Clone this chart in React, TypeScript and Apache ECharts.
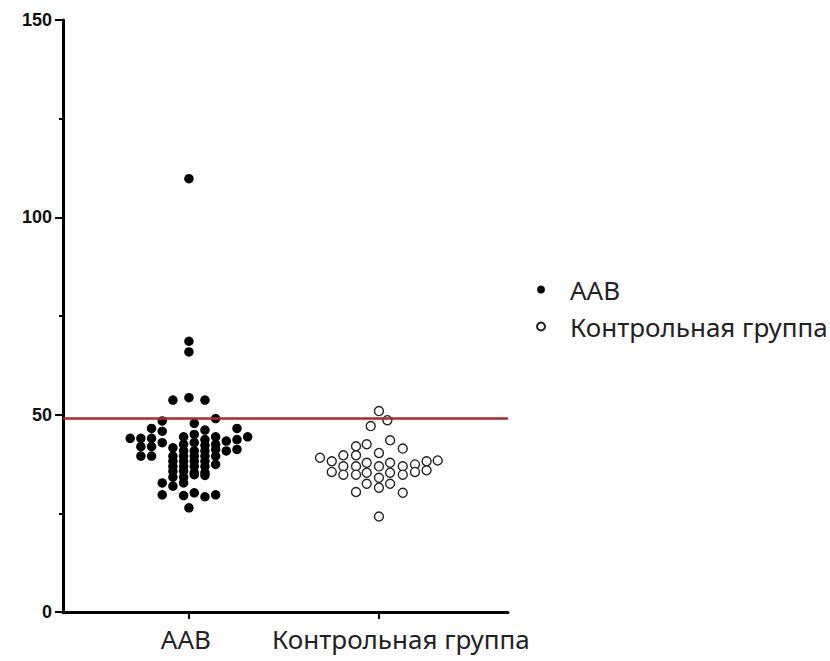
import React, { useEffect, useRef } from "react";
import * as echarts from "echarts";

const categories = ["AAB", "Контрольная группа"];
const categoryCenters = [28.3, 71.0];
const thresholdValue = 49;
const yTicks = [0, 50, 100, 150];

// AAB group: values and beeswarm horizontal offsets (x-axis units from group centre)
const aabValues = [
  53.7, 54.3, 53.7,
  48.4, 47.8, 49.0,
  46.5, 46.5,
  45.8, 46.1,
  44.0, 44.0, 44.0, 44.4, 45.0, 43.7, 44.4, 43.7, 44.4,
  42.9, 42.5, 42.9, 42.2, 42.5, 43.3,
  41.9, 41.9, 41.6,
  40.8, 40.8, 40.8, 41.2, 40.8, 41.2,
  39.5, 39.5, 39.5, 39.5, 39.5, 39.5, 39.5,
  38.2, 38.2, 38.2, 38.2,
  36.9, 36.9, 36.9, 36.9, 37.4,
  35.7, 35.7, 35.3, 35.3,
  34.2, 34.2, 34.8, 34.6,
  32.7, 31.9, 32.7,
  29.7, 29.5, 30.2, 29.2, 29.7,
  26.4,
  109.8, 68.6, 65.9,
];
const aabOffsets = [
  -3.6, 0, 3.6,
  -6.0, 1.2, 6.0,
  -8.4, 10.8,
  -6.0, 3.6,
  -13.2, -10.8, -8.4, -1.2, 1.2, 3.6, 6.0, 10.8, 13.2,
  -6.0, -1.2, 1.2, 3.6, 6.0, 8.4,
  -10.8, -8.4, -3.6,
  -1.2, 1.2, 3.6, 6.0, 8.4, 10.8,
  -10.8, -8.4, -3.6, -1.2, 1.2, 3.6, 6.0,
  -3.6, -1.2, 1.2, 3.6,
  -3.6, -1.2, 1.2, 3.6, 6.0,
  -3.6, -1.2, 1.2, 3.6,
  -3.6, -1.2, 1.2, 3.6,
  -6.0, -3.6, -1.2,
  -6.0, -1.2, 1.2, 3.6, 6.0,
  0,
  0, 0, 0,
];

// Control group
const controlValues = [
  39.1,
  38.2, 35.5,
  39.7, 36.9, 34.8,
  42.0, 39.7, 36.9, 34.8, 30.4,
  42.5, 37.8, 35.3, 32.5,
  47.1,
  50.9, 40.3, 36.9, 34.0, 31.5, 24.2,
  48.6,
  43.5, 37.8, 35.3, 32.5,
  41.4, 36.9, 34.8, 30.2,
  37.4, 35.5,
  38.2, 35.9,
  38.4,
];
const controlOffsets = [
  -13.25,
  -10.6, -10.6,
  -8.0, -8.0, -8.0,
  -5.15, -5.15, -5.15, -5.15, -5.15,
  -2.75, -2.75, -2.75, -2.75,
  -1.85,
  0, 0, 0, 0, 0, 0,
  1.9,
  2.5, 2.5, 2.5, 2.5,
  5.35, 5.35, 5.35, 5.35,
  8.1, 8.1,
  10.7, 10.7,
  13.2,
];

const LABEL_FONT = "'Noto Sans', 'Open Sans', sans-serif";

export default function App() {
  const ref = useRef<HTMLDivElement>(null);

  useEffect(() => {
    document.body.style.margin = "0";
    if (!ref.current) return;
    const chart = echarts.init(ref.current, undefined, { renderer: "svg" });

    const aabData = aabValues.map((v, i) => [categoryCenters[0] + aabOffsets[i], v]);
    const ctrlData = controlValues.map((v, i) => [categoryCenters[1] + controlOffsets[i], v]);

    const richBase = { fontSize: 26, color: "#222", fontFamily: LABEL_FONT };

    chart.setOption({
      animation: false,
      backgroundColor: "#ffffff",
      grid: { left: 63, right: 322, top: 20, bottom: 49, containLabel: false },
      legend: {
        orient: "vertical",
        left: 531,
        top: 271,
        itemWidth: 48,
        itemHeight: 8,
        itemGap: 10,
        data: categories,
        textStyle: { fontSize: 26, color: "#222", fontFamily: LABEL_FONT, lineHeight: 27 },
      },
      xAxis: {
        type: "value",
        min: 0,
        max: 100,
        splitLine: { show: false },
        axisLine: { show: true, onZero: false, lineStyle: { color: "#000", width: 3 } },
        axisTick: {
          show: true,
          customValues: categoryCenters,
          length: 7,
          lineStyle: { color: "#000", width: 2 },
        },
        axisLabel: {
          show: true,
          customValues: categoryCenters,
          margin: 14,
          fontSize: 26,
          color: "#222",
          fontFamily: LABEL_FONT,
          formatter: (val: number) => {
            const idx = categoryCenters.findIndex((c) => Math.abs(c - val) < 0.01);
            if (idx < 0) return "";
            return idx === 0 ? `{a|${categories[0]}}` : `{b|${categories[1]}}`;
          },
          rich: {
            a: { ...richBase, padding: [0, 6, 0, 0] },
            b: { ...richBase, padding: [0, 0, 0, 44] },
          },
        },
      },
      yAxis: {
        type: "value",
        min: 0,
        max: 150,
        interval: 50,
        splitLine: { show: false },
        axisLine: { show: true, onZero: false, lineStyle: { color: "#000", width: 3 } },
        axisTick: { show: true, length: 8, lineStyle: { color: "#000", width: 2 } },
        minorTick: { show: true, splitNumber: 2, length: 4, lineStyle: { color: "#000", width: 2 } },
        axisLabel: {
          margin: 11,
          fontSize: 18,
          fontWeight: "bold",
          color: "#111",
          fontFamily: "'Liberation Sans', Arial, sans-serif",
          customValues: yTicks,
        },
      },
      series: [
        {
          name: categories[0],
          type: "scatter",
          symbol: "circle",
          symbolSize: 9.5,
          data: aabData,
          itemStyle: { color: "#000", opacity: 1 },
          z: 2,
        },
        {
          name: categories[1],
          type: "scatter",
          symbol: "circle",
          symbolSize: 9,
          data: ctrlData,
          itemStyle: { color: "#fff", borderColor: "#222", borderWidth: 1.4, opacity: 1 },
          z: 2,
        },
        {
          name: "threshold",
          type: "line",
          data: [],
          z: 5,
          markLine: {
            silent: true,
            symbol: "none",
            label: { show: false },
            lineStyle: { color: "#b02a2c", width: 2.5, type: "solid" },
            data: [{ yAxis: thresholdValue }],
          },
        },
      ],
    });

    return () => chart.dispose();
  }, []);

  return <div ref={ref} style={{ width: 830, height: 661 }} />;
}
